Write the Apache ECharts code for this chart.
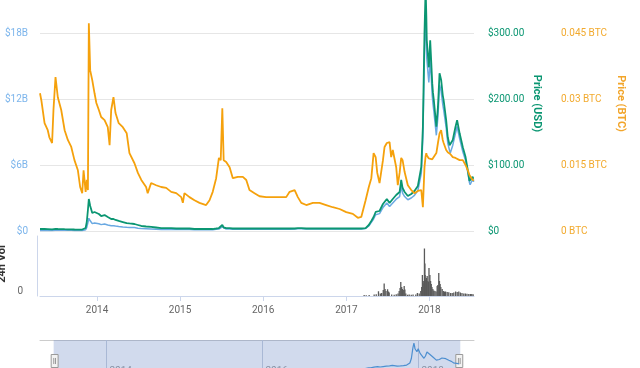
<!DOCTYPE html>
<html>
<head>
<meta charset="utf-8">
<script src="https://cdn.jsdelivr.net/npm/echarts@6/dist/echarts.min.js"></script>
<style>
  html, body { margin: 0; padding: 0; background: #fff; }
  #chart { width: 640px; height: 368px; }
</style>
</head>
<body>
<div id="chart"></div>
<script>
// ---- data ----
const dates = ['2013-04-28','2013-05-04','2013-05-18','2013-06-01','2013-06-08','2013-06-20','2013-06-26','2013-07-05','2013-07-15','2013-07-30',
'2013-08-14','2013-08-28','2013-09-12','2013-09-26','2013-10-11','2013-10-21','2013-10-30','2013-11-05','2013-11-14','2013-11-19',
'2013-11-24','2013-11-28','2013-12-04','2013-12-13','2013-12-23','2013-12-31','2014-01-11','2014-01-21','2014-02-05','2014-02-19',
'2014-02-27','2014-03-06','2014-03-16','2014-03-25','2014-04-08','2014-04-26','2014-05-13','2014-05-25','2014-06-16','2014-07-01',
'2014-07-16','2014-08-06','2014-08-13','2014-08-28','2014-09-19','2014-10-11','2014-11-02','2014-11-24','2014-12-16','2015-01-07',
'2015-01-14','2015-01-21','2015-02-12','2015-03-06','2015-03-28','2015-04-26','2015-05-11','2015-05-25','2015-06-09','2015-06-21',
'2015-06-29','2015-07-06','2015-07-12','2015-07-23','2015-08-07','2015-08-21','2015-09-12','2015-10-04','2015-10-19','2015-11-02',
'2015-11-24','2015-12-16','2016-01-14','2016-02-12','2016-03-13','2016-04-11','2016-04-26','2016-05-18','2016-06-01','2016-06-16',
'2016-07-08','2016-08-06','2016-09-04','2016-10-03','2016-11-01','2016-12-01','2016-12-30','2017-01-28','2017-02-19','2017-03-06',
'2017-03-13','2017-03-25','2017-04-08','2017-04-19','2017-04-29','2017-05-08','2017-05-15','2017-05-25','2017-06-09','2017-06-16',
'2017-06-26','2017-07-08','2017-07-15','2017-07-22','2017-08-06','2017-08-13','2017-08-21','2017-08-28','2017-09-03','2017-09-12',
'2017-09-26','2017-10-11','2017-10-25','2017-11-09','2017-11-24','2017-12-01','2017-12-08','2017-12-13','2017-12-16','2017-12-18',
'2017-12-27','2017-12-30','2018-01-02','2018-01-11','2018-01-14','2018-01-18','2018-01-29','2018-02-05','2018-02-12','2018-02-19',
'2018-02-26','2018-03-02','2018-03-13','2018-03-20','2018-03-28','2018-03-31','2018-04-11','2018-04-23','2018-04-30','2018-05-11',
'2018-05-25','2018-06-06','2018-06-16','2018-06-23','2018-06-26','2018-07-07','2018-07-10','2018-07-13'];

const priceBtc = [0.0313,0.0297,0.0245,0.0229,0.0213,0.0200,0.0275,0.0350,0.0304,0.0275,
0.0229,0.0207,0.0191,0.0161,0.0138,0.0100,0.0086,0.0138,0.0089,0.0116,
0.0093,0.0472,0.0365,0.0343,0.0313,0.0291,0.0275,0.0259,0.0252,0.0236,
0.0195,0.0275,0.0304,0.0268,0.0245,0.0236,0.0222,0.0177,0.0154,0.0132,
0.0116,0.0100,0.0086,0.0109,0.0104,0.0100,0.0098,0.0089,0.0086,0.0077,
0.0064,0.0086,0.0077,0.0070,0.0064,0.0059,0.0070,0.0089,0.0120,0.0166,
0.0161,0.0279,0.0161,0.0157,0.0145,0.0120,0.0123,0.0123,0.0116,0.0093,
0.0086,0.0079,0.0077,0.0077,0.0077,0.0077,0.0089,0.0093,0.0077,0.0064,
0.0059,0.0064,0.0064,0.0059,0.0054,0.0050,0.0043,0.0039,0.0030,0.0032,
0.0036,0.0070,0.0100,0.0120,0.0177,0.0168,0.0132,0.0109,0.0161,0.0191,
0.0200,0.0202,0.0168,0.0184,0.0145,0.0104,0.0132,0.0166,0.0161,0.0134,
0.0104,0.0093,0.0086,0.0091,0.0093,0.0054,0.0145,0.0170,0.0177,0.0172,
0.0165,0.0168,0.0165,0.0163,0.0161,0.0165,0.0177,0.0200,0.0222,0.0229,
0.0207,0.0200,0.0184,0.0179,0.0177,0.0175,0.0168,0.0166,0.0165,0.0161,
0.0161,0.0150,0.0138,0.0127,0.0125,0.0116,0.0114,0.0115];

const priceUsd = [3.0,3.0,3.0,2.9,2.7,2.6,2.9,3.2,3.0,2.9,
2.7,2.6,2.6,2.3,2.0,2.0,2.2,3.0,4.5,13.6,
31.8,48.5,37.9,27.3,28.8,31.8,25.8,22.7,24.2,21.2,
18.2,18.2,18.2,16.7,15.2,13.6,12.1,11.4,10.6,9.1,
7.6,6.8,6.1,6.1,5.3,4.5,4.5,4.5,3.8,3.8,
3.0,3.8,3.8,3.0,3.0,3.0,3.0,3.0,3.8,4.5,
4.5,9.1,5.3,4.5,4.5,3.8,3.8,3.8,3.8,3.8,
3.8,3.8,3.8,3.8,3.8,3.8,3.8,3.8,4.5,4.5,
3.8,3.8,3.8,3.8,3.8,3.8,3.8,3.8,3.8,3.8,
3.8,4.5,9.1,15.2,21.2,28.8,31.8,30.3,40.9,43.9,
48.5,42.4,42.4,48.5,54.5,56.1,59.1,77.3,65.1,59.1,
53.0,56.1,60.6,68.2,97.0,157.6,300.0,368.0,327.0,289.0,
248.0,266.6,289.0,224.0,210.0,198.0,158.0,188.0,239.0,229.0,
206.0,198.0,168.0,142.0,130.0,127.0,138.0,158.0,168.0,148.0,
127.0,112.0,92.0,76.0,74.0,82.0,79.0,80.0];

// market cap in billions of USD
const marketCap = [0.05,0.05,0.05,0.05,0.05,0.05,0.06,0.06,0.06,0.06,
0.06,0.06,0.06,0.05,0.05,0.05,0.05,0.07,0.11,0.33,
0.76,1.16,0.93,0.67,0.72,0.80,0.66,0.58,0.63,0.55,
0.48,0.48,0.48,0.45,0.41,0.37,0.34,0.32,0.31,0.26,
0.22,0.20,0.18,0.18,0.16,0.14,0.14,0.15,0.13,0.14,
0.11,0.14,0.14,0.11,0.11,0.11,0.12,0.12,0.15,0.18,
0.18,0.37,0.22,0.18,0.18,0.16,0.16,0.16,0.16,0.16,
0.16,0.17,0.17,0.17,0.17,0.17,0.17,0.18,0.21,0.21,
0.18,0.18,0.18,0.18,0.18,0.18,0.19,0.19,0.19,0.19,
0.19,0.23,0.46,0.78,1.09,1.48,1.64,1.58,2.13,2.28,
2.55,2.23,2.23,2.55,2.89,2.97,3.13,4.10,3.45,3.13,
2.84,3.00,3.24,3.68,5.24,8.51,16.2,19.9,17.7,15.7,
13.5,14.5,15.8,12.3,11.6,10.9,8.7,10.4,13.3,12.7,
11.5,11.0,9.4,8.0,7.3,7.1,7.8,8.9,9.5,8.4,
7.2,6.4,5.3,4.4,4.2,4.7,4.5,4.6];

// 24h volume in billions of USD
const volDates = ['2017-03-20','2017-03-29','2017-04-11','2017-05-03','2017-05-12','2017-05-22','2017-05-30','2017-06-05','2017-06-12','2017-06-16',
'2017-06-20','2017-06-24','2017-07-01','2017-07-05','2017-07-08','2017-07-19','2017-07-30','2017-08-08','2017-08-16','2017-08-21',
'2017-08-25','2017-08-28','2017-09-01','2017-09-04','2017-09-08','2017-09-12','2017-09-15','2017-09-19','2017-09-27','2017-10-04',
'2017-10-13','2017-10-21','2017-11-02','2017-11-09','2017-11-17','2017-11-24','2017-11-28','2017-12-01','2017-12-04','2017-12-07',
'2017-12-10','2017-12-12','2017-12-13','2017-12-16','2017-12-19','2017-12-22','2017-12-25','2017-12-28','2017-12-30','2018-01-03',
'2018-01-06','2018-01-09','2018-01-12','2018-01-16','2018-01-20','2018-01-25','2018-01-30','2018-02-04','2018-02-07','2018-02-11',
'2018-02-14','2018-02-17','2018-02-20','2018-02-26','2018-03-03','2018-03-08','2018-03-13','2018-03-20','2018-03-27','2018-04-04',
'2018-04-11','2018-04-18','2018-04-26','2018-05-03','2018-05-10','2018-05-17','2018-05-24','2018-06-01','2018-06-08','2018-06-15',
'2018-06-23','2018-06-30','2018-07-06','2018-07-12'];
const volValues = [0.2,0.15,0.2,0.3,0.35,0.95,0.5,0.6,1.2,2.5,
1.4,1.0,1.35,0.9,0.7,0.3,0.25,0.35,0.5,1.0,
1.6,2.8,1.8,1.4,1.2,2.0,1.3,0.5,0.25,0.3,
0.25,0.3,0.3,0.6,0.5,1.0,1.8,4.2,2.5,3.0,
9.5,6.5,4.2,3.2,3.6,4.0,3.0,2.8,5.6,4.2,
3.0,2.4,1.8,1.4,1.1,1.0,0.9,2.0,2.2,4.6,
3.0,2.4,1.8,1.4,1.0,0.9,0.9,0.8,0.75,0.6,
0.6,0.7,0.9,0.8,0.9,0.7,0.6,0.5,0.5,0.45,
0.4,0.4,0.4,0.35];

// navigator (slider) range and its tick labels
const navRange = ['2013-02-28', '2018-09-20'];
const viewRange = ['2013-04-28', '2018-07-13'];
const navTickDates = ['2014-01-01', '2016-01-01', '2018-01-01'];
const navTickLabels = ['2014', '2016', '2018'];

// ---- chart ----
const GREEN = '#0b9672';
const BLUE = '#6aa9e2';
const ORANGE = '#f5a10c';
const FONT = 'Roboto';

const zip = (xs, ys) => xs.map((x, i) => [x, ys[i]]);

const chart = echarts.init(document.getElementById('chart'), null, { renderer: 'canvas' });

const option = {
  animation: false,
  backgroundColor: '#ffffff',
  textStyle: { fontFamily: FONT },
  grid: [
    { left: 40, right: 166, top: 0, height: 231, outerBoundsMode: 'none', containLabel: false },
    { left: 40, right: 166, top: 236, height: 60, outerBoundsMode: 'none', containLabel: false },
    { left: 40, right: 166, top: 340, height: 28, outerBoundsMode: 'none', containLabel: false }
  ],
  xAxis: [
    { type: 'time', gridIndex: 0, min: navRange[0], max: navRange[1],
      axisLine: { show: false }, axisTick: { show: false }, axisLabel: { show: false }, splitLine: { show: false } },
    { type: 'time', gridIndex: 1, min: viewRange[0], max: viewRange[1],
      axisLine: { show: true, lineStyle: { color: '#ccd6eb', width: 1 } },
      axisTick: { show: true, length: 5, lineStyle: { color: '#ccd6eb' } },
      axisLabel: { color: '#666666', fontSize: 10, fontFamily: FONT, margin: 9,
        formatter: v => String(new Date(v).getFullYear()) },
      splitLine: { show: false } },
    { type: 'time', gridIndex: 2, min: navRange[0], max: navRange[1], position: 'top',
      axisLine: { show: true, lineStyle: { color: '#cccccc', width: 1 } },
      axisTick: { show: false }, axisLabel: { show: false }, splitLine: { show: false } }
  ],
  yAxis: [
    { type: 'value', gridIndex: 0, position: 'left', min: 0, max: 21, interval: 6,
      axisLine: { show: false }, axisTick: { show: false },
      axisLabel: { color: '#7cb5ec', fontSize: 10, fontFamily: FONT, margin: 12, showMaxLabel: false,
        formatter: v => v === 0 ? '$0' : '$' + v + 'B' },
      splitLine: { show: true, showMaxLine: false, lineStyle: { color: '#e6e6e6', width: 1 } } },
    { type: 'value', gridIndex: 0, position: 'right', min: 0, max: 350, interval: 100,
      axisLine: { show: false }, axisTick: { show: false },
      axisLabel: { color: GREEN, fontSize: 10, fontFamily: FONT, margin: 14, showMaxLabel: false,
        formatter: v => v === 0 ? '$0' : '$' + v.toFixed(2) },
      splitLine: { show: false },
      name: 'Price (USD)', nameLocation: 'middle', nameRotate: -90, nameGap: 57, nameMoveOverlap: false,
      nameTextStyle: { color: GREEN, fontWeight: 'bold', fontSize: 11, fontFamily: FONT, padding: [0, 24, 0, 0] } },
    { type: 'value', gridIndex: 0, position: 'right', offset: 73, min: 0, max: 0.0525, interval: 0.015,
      axisLine: { show: false }, axisTick: { show: false },
      axisLabel: { color: '#f2aa2e', fontSize: 10, fontFamily: FONT, margin: 14, showMaxLabel: false,
        formatter: v => v === 0 ? '0 BTC' : (+v.toFixed(4)) + ' BTC' },
      splitLine: { show: false },
      name: 'Price (BTC)', nameLocation: 'middle', nameRotate: -90, nameGap: 68, nameMoveOverlap: false,
      nameTextStyle: { color: '#f2a52a', fontWeight: 'bold', fontSize: 11, fontFamily: FONT, padding: [0, 24, 0, 0] } },
    { type: 'value', gridIndex: 1, min: 0, max: 12, interval: 12, offset: 3,
      axisLine: { show: true, lineStyle: { color: '#ccd6eb', width: 1 } }, axisTick: { show: false },
      axisLabel: { color: '#666666', fontSize: 10, fontFamily: FONT, margin: 14, showMaxLabel: false,
        verticalAlign: 'bottom', formatter: v => String(v) },
      splitLine: { show: false },
      name: '24h Vol', nameLocation: 'middle', nameGap: 29, nameMoveOverlap: false,
      nameTextStyle: { color: '#333333', fontWeight: 'bold', fontSize: 11, fontFamily: FONT, padding: [0, 0, 0, 4] } },
    { type: 'value', gridIndex: 2, min: 1.5, max: 22.2, show: false }
  ],
  dataZoom: [{
    type: 'slider', xAxisIndex: [0], filterMode: 'none',
    startValue: viewRange[0], endValue: viewRange[1],
    left: 40, right: 166, top: 340, height: 42,
    showDetail: false, showDataShadow: false, brushSelect: false,
    backgroundColor: 'rgba(0,0,0,0)', borderColor: 'rgba(0,0,0,0)',
    fillerColor: 'rgba(102,133,194,0.3)',
    handleIcon: 'path://M0,0 L8,0 L8,15 L0,15 Z M3,4 L3,11 M5,4 L5,11',
    handleSize: '31%',
    handleStyle: { color: '#f2f2f2', borderColor: '#999999', borderWidth: 1 },
    moveHandleSize: 0,
    moveHandleStyle: { opacity: 0 },
    emphasis: { handleStyle: { color: '#f2f2f2', borderColor: '#999999' } }
  }],
  series: [
    { name: 'Market Cap', type: 'line', xAxisIndex: 0, yAxisIndex: 0, data: zip(dates, marketCap),
      showSymbol: false, lineStyle: { color: BLUE, width: 1.5 }, itemStyle: { color: BLUE }, z: 2 },
    { name: 'Price (USD)', type: 'line', xAxisIndex: 0, yAxisIndex: 1, data: zip(dates, priceUsd),
      showSymbol: false, lineStyle: { color: GREEN, width: 1.8 }, itemStyle: { color: GREEN }, z: 3 },
    { name: 'Price (BTC)', type: 'line', xAxisIndex: 0, yAxisIndex: 2, data: zip(dates, priceBtc),
      showSymbol: false, lineStyle: { color: ORANGE, width: 1.8 }, itemStyle: { color: ORANGE }, z: 4 },
    { name: '24h Vol', type: 'bar', xAxisIndex: 1, yAxisIndex: 3, data: zip(volDates, volValues),
      barWidth: 1.3, itemStyle: { color: '#5a5a5a' } },
    { name: 'Navigator', type: 'line', xAxisIndex: 2, yAxisIndex: 4, data: zip(dates, marketCap),
      showSymbol: false, lineStyle: { color: '#4d8fd0', width: 1.2 }, z: 10, silent: true },
    { name: 'Navigator ticks', type: 'custom', xAxisIndex: 2, yAxisIndex: 4, silent: true, z: 1,
      data: navTickDates.map(d => [d, 1.5]), encode: { x: 0, y: 1 },
      renderItem: function (params, api) {
        const p = api.coord([api.value(0), 1.5]);
        const cs = params.coordSys;
        const x = Math.round(p[0]) + 0.5;
        return { type: 'group', children: [
          { type: 'line', shape: { x1: x, y1: cs.y, x2: x, y2: cs.y + cs.height },
            style: { stroke: '#c6cfdd', lineWidth: 1 } },
          { type: 'text', style: { text: navTickLabels[params.dataIndex], x: x + 3, y: cs.y + 26,
            verticalAlign: 'top', fill: '#999999', font: '10px ' + FONT } }
        ] };
      } }
  ]
};
chart.setOption(option);
</script>
</body>
</html>
